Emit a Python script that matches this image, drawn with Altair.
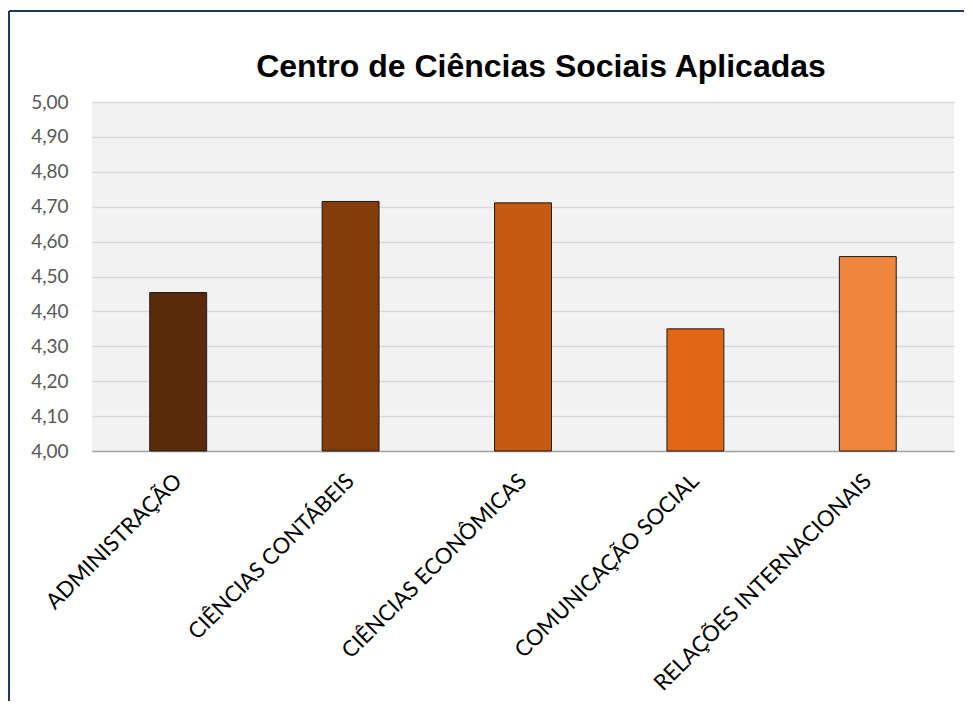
import altair as alt
import pandas as pd

courses = ["ADMINISTRAÇÃO", "CIÊNCIAS CONTÁBEIS", "CIÊNCIAS ECONÔMICAS",
           "COMUNICAÇÃO SOCIAL", "RELAÇÕES INTERNACIONAIS"]
values = [4.454, 4.715, 4.711, 4.350, 4.557]
colors = ["#5B2A0B", "#843C0C", "#C55A11", "#E26714", "#EE863D"]
y_ticks = [4.0, 4.1, 4.2, 4.3, 4.4, 4.5, 4.6, 4.7, 4.8, 4.9, 5.0]
title_text = "Centro de Ciências Sociais Aplicadas"

df = pd.DataFrame({"curso": courses, "media": values, "base": [4.0] * len(courses)})

bars = alt.Chart(df).mark_bar(stroke="#1a1a1a", strokeWidth=1).encode(
    x=alt.X(
        "curso:N", sort=courses,
        scale=alt.Scale(paddingInner=0.67, paddingOuter=0.335),
        axis=alt.Axis(title=None, labelAngle=-45, labelAlign="right", labelBaseline="middle",
                      labelPadding=26, labelLimit=0, ticks=False, domainColor="#A6A6A6",
                      domainWidth=1.5, labelFont="Lato", labelFontSize=22,
                      labelColor="#000000", grid=False),
    ),
    y=alt.Y(
        "media:Q",
        scale=alt.Scale(domain=[4, 5], zero=False, nice=False),
        axis=alt.Axis(title=None, values=y_ticks,
                      labelExpr="replace(format(datum.value, '.2f'), '.', ',')",
                      ticks=False, domain=False, gridColor="#D9D9D9", gridWidth=1.5,
                      labelFont="Lato", labelFontSize=19, labelColor="#595959", labelPadding=24),
    ),
    y2="base:Q",
    color=alt.Color("curso:N", scale=alt.Scale(domain=courses, range=colors), legend=None),
)

one = pd.DataFrame({"a": [0]})
left_border = alt.Chart(one).mark_rule(color="#1F3864", strokeWidth=2).encode(
    x=alt.value(-83), y=alt.value(-91), y2=alt.value(700)
)
top_border = alt.Chart(one).mark_rule(color="#1F3864", strokeWidth=2).encode(
    x=alt.value(-83), x2=alt.value(900), y=alt.value(-91)
)

chart = alt.layer(bars, left_border, top_border).properties(
    width=862, height=349,
    title=alt.Title(title_text, font="Liberation Sans", fontSize=32, fontWeight="bold",
                    color="#000000", anchor="middle", dx=18, frame="group", offset=-99,
                    baseline="alphabetic"),
    autosize=alt.AutoSizeParams(type="none"),
    padding={"left": 84, "top": 94, "right": 10, "bottom": 250},
    background="#FFFFFF",
).configure_view(fill="#F2F2F2", strokeWidth=0)

chart.save("out.html", embed_options={"renderer": "svg", "actions": False})
